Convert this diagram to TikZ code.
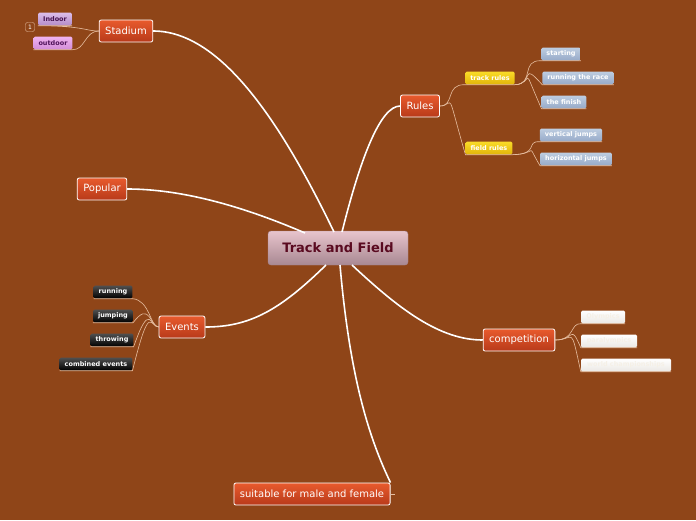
\documentclass[tikz,border=0pt]{standalone}
\usepackage{fontspec}
\setmainfont{DejaVu Sans}
\definecolor{bgbrown}{RGB}{143,69,24}
\definecolor{topictop}{RGB}{232,90,45}
\definecolor{topicbot}{RGB}{184,58,26}
\definecolor{roottop}{RGB}{232,196,204}
\definecolor{rootbot}{RGB}{168,136,146}
\definecolor{roottext}{RGB}{90,10,32}
\definecolor{linkc}{RGB}{230,190,160}
\tikzset{
  root/.style={rectangle, rounded corners=3pt, top color=roottop, bottom color=rootbot, draw=rootbot,
    minimum width=140pt, minimum height=34pt, text=roottext, font=\bfseries\fontsize{13}{15}\selectfont},
  topic/.style={rectangle, rounded corners=2pt, top color=topictop, bottom color=topicbot, draw=white,
    line width=0.8pt, minimum height=22pt, inner xsep=6pt, text=white, font=\fontsize{10}{12}\selectfont},
  leaf/.style={rectangle, rounded corners=1.5pt, minimum height=13pt, inner xsep=5pt, inner ysep=0pt,
    font=\bfseries\fontsize{6.5}{8}\selectfont},
  lilac/.style={leaf, top color={rgb,255:red,220;green,190;blue,235}, bottom color={rgb,255:red,180;green,140;blue,200}, text={rgb,255:red,70;green,20;blue,80}},
  pinkleaf/.style={leaf, top color={rgb,255:red,240;green,180;blue,240}, bottom color={rgb,255:red,210;green,140;blue,215}, text={rgb,255:red,80;green,20;blue,90}},
  yellowleaf/.style={leaf, top color={rgb,255:red,250;green,220;blue,40}, bottom color={rgb,255:red,225;green,180;blue,10}, text=white},
  blueleaf/.style={leaf, top color={rgb,255:red,190;green,205;blue,225}, bottom color={rgb,255:red,150;green,170;blue,200}, text=white},
  blackleaf/.style={leaf, top color={rgb,255:red,80;green,80;blue,80}, bottom color=black, text=white},
  whiteleaf/.style={leaf, top color=white, bottom color={rgb,255:red,235;green,232;blue,228}, text={rgb,255:red,245;green,240;blue,230}},
  mainlink/.style={white, line width=1.6pt},
  sublink/.style={linkc, line width=0.6pt},
}
\begin{document}
\begin{tikzpicture}[x=1pt, y=-1pt]
  \fill[bgbrown] (0,0) rectangle (696,520);
  \useasboundingbox (0,0) rectangle (696,520);

  \node[root] (tf) at (338,248) {Track and Field};

  \node[topic] (stadium) at (126,31) {Stadium};
  \node[topic] (popular) at (102,189) {Popular};
  \node[topic] (rules) at (420,106) {Rules};
  \node[topic] (events) at (182,327) {Events};
  \node[topic] (comp) at (519,340) {competition};
  \node[topic] (suit) at (312,494) {suitable for male and female};

  \node[lilac] (indoor) at (55,19) {Indoor};
  \node[pinkleaf] (outdoor) at (53,43) {outdoor};
  \node[draw=linkc, rounded corners=2pt, inner sep=1pt, minimum size=9pt, text=white,
    font=\fontsize{6}{7}\selectfont] (badge) at (30,27) {1};

  \node[yellowleaf] (track) at (490,78) {track rules};
  \node[yellowleaf] (field) at (489,148) {field rules};
  \node[blueleaf] (start) at (561,54) {starting};
  \node[blueleaf] (race) at (578,78) {running the race};
  \node[blueleaf] (finish) at (564,102) {the finish};
  \node[blueleaf] (vert) at (571,135) {vertical jumps};
  \node[blueleaf] (horiz) at (576,159) {horizontal jumps};

  \node[blackleaf] (run) at (113,292) {running};
  \node[blackleaf] (jump) at (113,316) {jumping};
  \node[blackleaf] (throw) at (112,340) {throwing};
  \node[blackleaf] (combined) at (96,364) {combined events};

  \node[whiteleaf, minimum width=44pt] (olymp) at (603,317) {Olympics};
  \node[whiteleaf, minimum width=56pt] (para) at (609,341) {paralympics};
  \node[whiteleaf, minimum width=90pt] (world) at (626,365) {world championships};

  % main branches
  \draw[mainlink] (334,232) .. controls (280,120) and (220,31) .. (stadium.east);
  \draw[mainlink] (305,233) .. controls (240,205) and (180,189) .. (popular.east);
  \draw[mainlink] (342,232) .. controls (360,160) and (380,106) .. (rules.west);
  \draw[mainlink] (326,265) .. controls (280,310) and (250,327) .. (events.east);
  \draw[mainlink] (352,265) .. controls (400,310) and (440,340) .. (comp.west);
  \draw[mainlink] (340,265) .. controls (350,380) and (370,440) .. (suit.north east);
  \draw[sublink] (suit.east) -- ++(4,0);

  % stadium
  \draw[sublink] (stadium.west) .. controls (85,31) and (85,26) .. (indoor.south west) -- (indoor.south east);
  \draw[sublink] (stadium.west) .. controls (85,31) and (85,50) .. (outdoor.south east) -- (outdoor.south west);

  % rules
  \foreach \k in {track, field}
    \draw[sublink] (rules.east) .. controls (455,106) and (445,84) .. (\k.south west) -- (\k.south east);
  \foreach \k in {start, race, finish}
    \draw[sublink] (track.south east) .. controls (535,84) and (520,60) .. (\k.south west) -- (\k.south east);
  \foreach \k in {vert, horiz}
    \draw[sublink] (field.south east) .. controls (540,154) and (525,141) .. (\k.south west) -- (\k.south east);

  % events
  \foreach \k in {run, jump, throw, combined}
    \draw[sublink] (events.west) .. controls (150,327) and (150,300) .. (\k.south east) -- (\k.south west);

  % competition
  \foreach \k in {olymp, para, world}
    \draw[sublink] (comp.east) .. controls (575,340) and (570,323) .. (\k.south west) -- (\k.south east);
\end{tikzpicture}
\end{document}
